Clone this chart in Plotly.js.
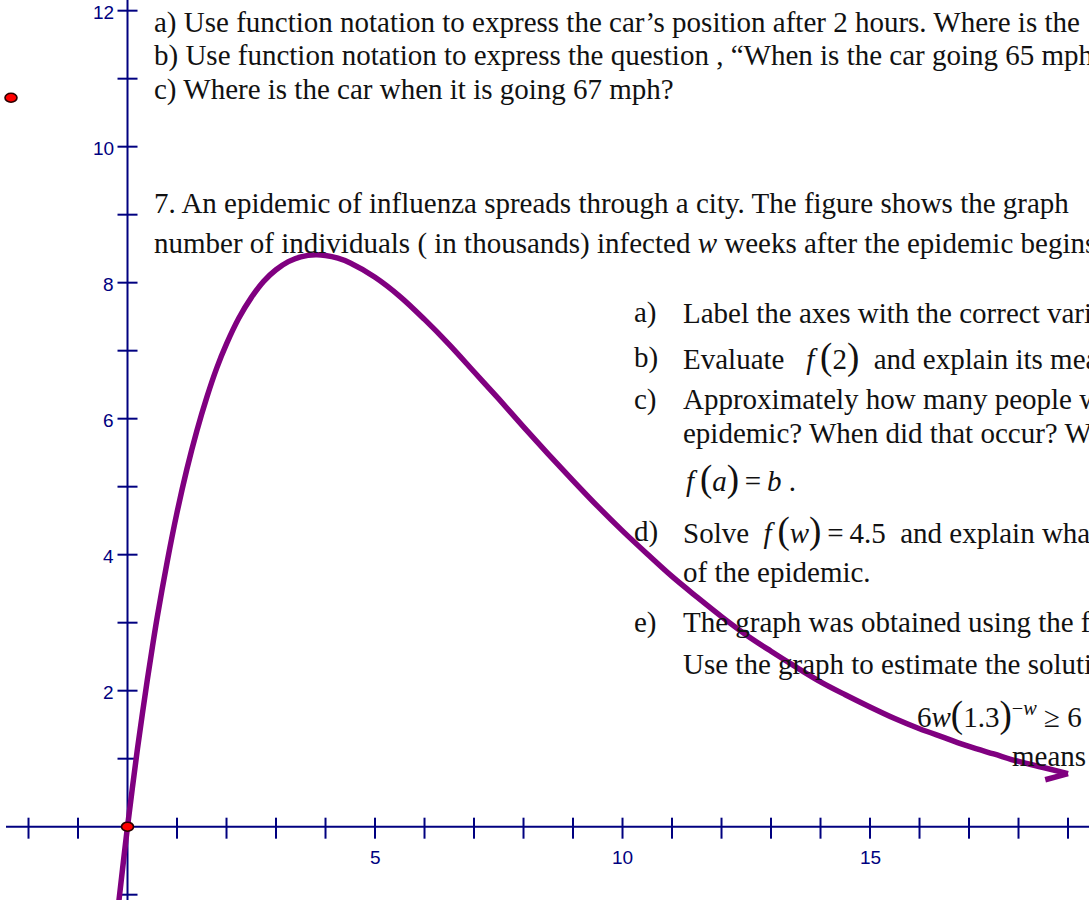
<!DOCTYPE html>
<html>
<head>
<meta charset="utf-8">
<script src="https://cdn.plot.ly/plotly-3.0.1.min.js"></script>
<style>
  html, body { margin: 0; padding: 0; background: #ffffff; overflow: hidden; }
  #chart { width: 1089px; height: 900px; }
</style>
</head>
<body>
<div id="chart"></div>
<script>
// Infected individuals (thousands) against weeks since the epidemic began
const weeks = [-0.18, -0.1, 0, 0.1, 0.2, 0.3, 0.4, 0.5, 0.6, 0.8, 1.0, 1.2, 1.4, 1.6, 1.8,
  2.0, 2.25, 2.5, 2.75, 3.0, 3.25, 3.5, 3.8, 4.0, 4.25, 4.5, 5.0, 5.5, 6.0, 6.5, 7.0, 7.5,
  8.0, 8.5, 9.0, 9.5, 10.0, 10.5, 11.0, 11.5, 12.0, 12.5, 13.0, 13.5, 14.0, 14.5, 15.0,
  15.5, 16.0, 16.5, 17.0, 17.5, 18.0, 18.5, 19.0];
const infected = [-1.13, -0.62, 0, 0.58, 1.14, 1.66, 2.16, 2.63, 3.08, 3.89, 4.62, 5.26, 5.82, 6.31, 6.74,
  7.10, 7.48, 7.78, 8.02, 8.19, 8.31, 8.38, 8.41, 8.40, 8.36, 8.29, 8.08, 7.80, 7.46, 7.09, 6.69, 6.29,
  5.88, 5.48, 5.09, 4.71, 4.35, 4.01, 3.68, 3.38, 3.09, 2.82, 2.58, 2.35, 2.13, 1.94, 1.76,
  1.59, 1.44, 1.31, 1.18, 1.07, 0.96, 0.87, 0.78];

// Barb at the end of the stroke
const barbWeeks = [19.0, 18.54];
const barbInfected = [0.78, 0.69];

// Axis ticks and labels
const xTicks = [-2, -1, 1, 2, 3, 4, 5, 6, 7, 8, 9, 10, 11, 12, 13, 14, 15, 16, 17, 18, 19];
const yTicks = [-1, 1, 2, 3, 4, 5, 6, 7, 8, 9, 10, 11, 12];
const xLabels = [5, 10, 15];
const yLabels = [2, 4, 6, 8, 10, 12];

// Marked points
const dotX = [0, -2.354];
const dotY = [0, 10.72];

const W = 1089, H = 900;
const px = v => v / W;
const py = v => 1 - v / H;

const axisColor = 'rgb(0,0,128)';
const ink = '#111111';
const serif = 'Liberation Serif, Times New Roman, serif';
const sp = '\u00a0';
const thin = '\u2009';

const shapes = [];
// coordinate axes through the origin
shapes.push({type: 'line', layer: 'below', xref: 'x', yref: 'paper', x0: 0, x1: 0, y0: 0, y1: 1,
  line: {color: axisColor, width: 2}});
shapes.push({type: 'line', layer: 'below', xref: 'paper', yref: 'y', x0: px(6), x1: 1, y0: 0, y1: 0,
  line: {color: axisColor, width: 2}});
xTicks.forEach(t => shapes.push({type: 'line', layer: 'below', xref: 'x', yref: 'y',
  ysizemode: 'pixel', yanchor: 0, x0: t, x1: t, y0: -12, y1: 9,
  line: {color: axisColor, width: 2}}));
yTicks.forEach(t => shapes.push({type: 'line', layer: 'below', xref: 'x', yref: 'y',
  xsizemode: 'pixel', xanchor: 0, x0: -10, x1: 10, y0: t, y1: t,
  line: {color: axisColor, width: 2}}));
dotX.forEach((x, i) => shapes.push({type: 'circle', layer: 'above', xref: 'x', yref: 'y',
  xsizemode: 'pixel', ysizemode: 'pixel', xanchor: x, yanchor: dotY[i],
  x0: -6, x1: 6, y0: -4.5, y1: 4.5,
  fillcolor: '#ff0000', line: {color: '#2a0000', width: 1.6}}));

const annotations = [];
const tickFont = {family: 'Liberation Sans, Arial, sans-serif', size: 19, color: axisColor};
xLabels.forEach(v => annotations.push({x: v, y: 0, xref: 'x', yref: 'y', text: String(v),
  showarrow: false, xanchor: 'center', yanchor: 'middle', yshift: -31, font: tickFont}));
yLabels.forEach(v => annotations.push({x: 0, y: v, xref: 'x', yref: 'y', text: String(v),
  showarrow: false, xanchor: 'right', yanchor: 'middle', xshift: -12, yshift: -2, font: tickFont}));

function line(text, x, y) {
  annotations.push({xref: 'paper', yref: 'paper', x: px(x), y: py(y), text: text,
    showarrow: false, xanchor: 'left', yanchor: 'middle', align: 'left',
    font: {family: serif, size: 29, color: ink}});
}
const big = s => '<span style="font-size:37px">' + s + '</span>';

line('a) Use function notation to express the car’s position after 2 hours. Where is the', 152, 22);
line('b) Use function notation to express the question , “When is the car going 65 mph', 152, 56);
line('c) Where is the car when it is going 67 mph?', 152, 90);
line('7. An epidemic of influenza spreads through a city. The figure shows the graph', 152, 203);
line('number of individuals ( in thousands) infected <i>w</i> weeks after the epidemic begins', 152, 244);

line('a)', 632, 313);
line('Label the axes with the correct variables', 681, 313);
line('b)', 632, 357);
line('Evaluate' + sp + sp + sp + '<i>f</i>' + thin + big('(') + '2' + big(')') + sp + sp + 'and explain its meaning', 681, 357);
line('c)', 632, 399);
line('Approximately how many people were', 681, 399);
line('epidemic? When did that occur? Write', 681, 433);
line('<i>f</i>' + thin + big('(') + '<i>a</i>' + big(')') + thin + '=' + thin + '<i>b</i> .', 684, 479);
line('d)', 632, 531);
line('Solve' + sp + sp + '<i>f</i>' + thin + big('(') + '<i>w</i>' + big(')') + thin + '=' + thin + '4.5' + sp + sp + 'and explain what', 681, 531);
line('of the epidemic.', 681, 572);
line('e)', 632, 622);
line('The graph was obtained using the function', 681, 622);
line('Use the graph to estimate the solution', 681, 664);
line('6<i>w</i>' + big('(') + '1.3' + big(')') + '<sup>−<i>w</i></sup>' + sp + '≥ 6', 915, 715);
line('means', 1010, 756);

const traces = [
  {x: weeks, y: infected, type: 'scatter', mode: 'lines',
   line: {color: 'rgb(128,0,128)', width: 5.5, shape: 'spline'}, hoverinfo: 'skip'},
  {x: barbWeeks, y: barbInfected, type: 'scatter', mode: 'lines',
   line: {color: 'rgb(128,0,128)', width: 5.5}, hoverinfo: 'skip'}
];

const layout = {
  width: W, height: H,
  margin: {l: 0, r: 0, t: 0, b: 0},
  paper_bgcolor: '#ffffff', plot_bgcolor: '#ffffff',
  showlegend: false,
  xaxis: {range: [-2.576, 19.424], visible: false, fixedrange: true},
  yaxis: {range: [-1.078, 12.157], visible: false, fixedrange: true},
  shapes: shapes,
  annotations: annotations
};

Plotly.newPlot('chart', traces, layout, {displayModeBar: false, staticPlot: true});
</script>
</body>
</html>
